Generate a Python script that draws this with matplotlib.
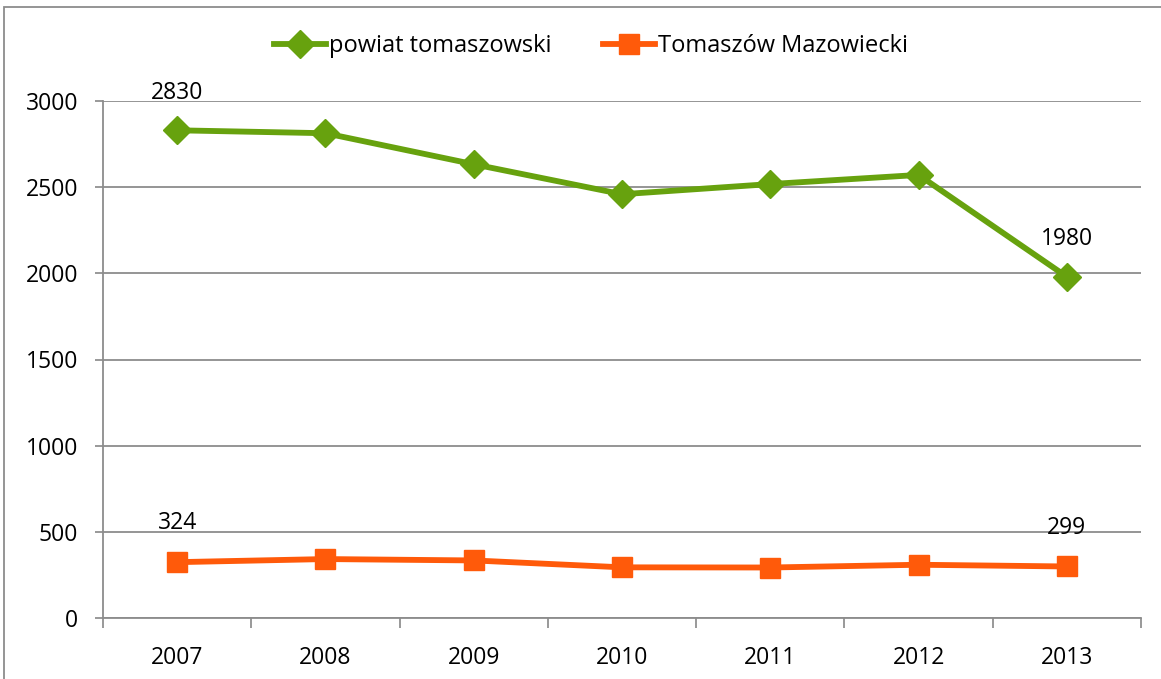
import matplotlib.pyplot as plt
import numpy as np
from matplotlib.patches import Rectangle

plt.rcParams['font.family'] = ['Open Sans', 'DejaVu Sans']

# data
years = ['2007', '2008', '2009', '2010', '2011', '2012', '2013']
powiat = [2830, 2813, 2633, 2459, 2518, 2571, 1980]
miasto = [324, 342, 334, 294, 293, 309, 299]
labels_powiat = {0: '2830', 6: '1980'}
labels_miasto = {0: '324', 6: '299'}

green = '#67A20E'
orange = '#FF5A0A'

fig = plt.figure(figsize=(11.61, 6.79), dpi=100)
ax = fig.add_axes([103 / 1161, 1 - 618 / 679, 1038 / 1161, 517 / 679])

x = np.arange(len(years))
ax.plot(x, powiat, color=green, lw=4.2, marker='D', ms=14, label='powiat tomaszowski')
ax.plot(x, miasto, color=orange, lw=4.2, marker='s', ms=15, label='Tomaszów Mazowiecki')

for i, t in labels_powiat.items():
    ax.annotate(t, (x[i], powiat[i]), xytext=(0, 27), textcoords='offset points',
                ha='center', va='center', fontsize=16.5)
for i, t in labels_miasto.items():
    ax.annotate(t, (x[i], miasto[i]), xytext=(0, 28), textcoords='offset points',
                ha='center', va='center', fontsize=16.5)

ax.set_xlim(-0.5, 6.5)
ax.set_ylim(0, 3000)
ax.set_yticks(range(0, 3001, 500))
ax.set_xticks(x)
ax.set_xticklabels(years)
ax.set_xticks(np.arange(-0.5, 7, 1), minor=True)
ax.tick_params(axis='x', which='major', length=0, pad=20, labelsize=16.5)
ax.tick_params(axis='x', which='minor', length=7, color='#888888', width=1.2)
ax.tick_params(axis='y', length=6, color='#888888', width=1.2, pad=12, labelsize=16.5)

ax.grid(axis='y', color='#8c8c8c', lw=1.3)
ax.set_axisbelow(True)
for s in ['top', 'right']:
    ax.spines[s].set_visible(False)
for s in ['left', 'bottom']:
    ax.spines[s].set_color('#8c8c8c')
    ax.spines[s].set_linewidth(1.3)

fig.legend(loc='center', bbox_to_anchor=(591 / 1161, 1 - 46 / 679), ncol=2,
           frameon=False, fontsize=17, handlelength=2.2, handletextpad=0.1,
           columnspacing=2.2)

# outer chart border
fig.patches.append(Rectangle((4 / 1161, -0.1), 1.2, 1 - 7 / 679 + 0.1,
                             transform=fig.transFigure, fill=False,
                             edgecolor='#8c8c8c', lw=1.3))

fig.savefig('out.png', dpi=100)
